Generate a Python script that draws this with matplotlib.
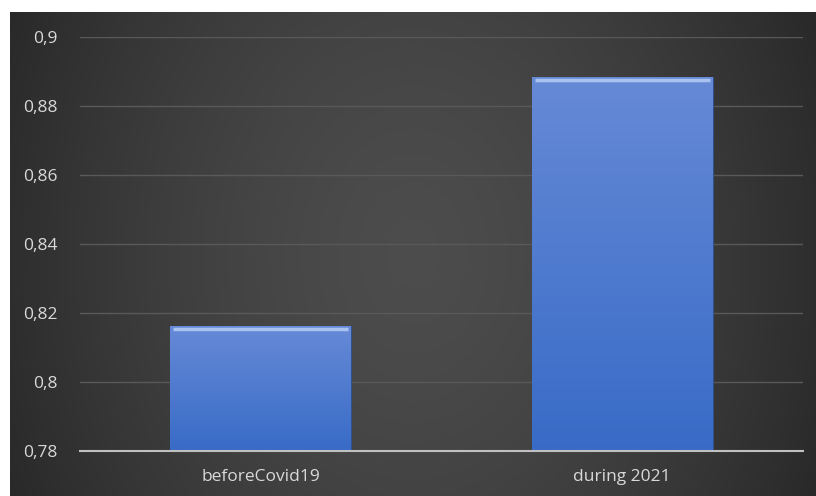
import numpy as np
import matplotlib.pyplot as plt
from matplotlib.ticker import FixedLocator

categories = ['beforeCovid19', 'during 2021']
values = [0.8162, 0.8884]
yticks = [0.78, 0.80, 0.82, 0.84, 0.86, 0.88, 0.90]
ytick_labels = ['0,78', '0,8', '0,82', '0,84', '0,86', '0,88', '0,9']

plt.rcParams['font.family'] = ['Open Sans', 'DejaVu Sans']

fig = plt.figure(figsize=(8.16, 4.96), dpi=100)
fig.patch.set_facecolor('white')

# dark background panel, lighter towards the middle
bg = fig.add_axes([10 / 816, 0, 806 / 816, 484 / 496])
xx, yy = np.meshgrid(np.linspace(-1, 1, 300), np.linspace(-1, 1, 200))
r = np.sqrt((xx / 1.0) ** 2 + (yy / 2.2) ** 2)
shade = 0.30 - 0.12 * np.clip(r, 0, 1.3) ** 1.5
bg.imshow(np.dstack([shade, shade, shade]), aspect='auto', extent=[0, 1, 0, 1])
bg.set_axis_off()

ax = fig.add_axes([80 / 816, (496 - 451) / 496, 723 / 816, (451 - 36.7) / 496])
ax.set_facecolor('none')

x = np.arange(len(categories))
bars = ax.bar(x, values, width=0.5, color='#4a78d0', zorder=3,
              edgecolor='#2c4f8f', linewidth=0.6)

# vertical gradient inside each bar
grad = np.linspace(0, 1, 256).reshape(-1, 1)
top = np.array([0.40, 0.54, 0.84])
bot = np.array([0.22, 0.42, 0.78])
img = top * (1 - grad[..., None]) + bot * grad[..., None]
img = img.reshape(256, 1, 3)
for b in bars:
    x0, w, h = b.get_x(), b.get_width(), b.get_height()
    im = ax.imshow(img, extent=[x0, x0 + w, 0.78, h], aspect='auto', zorder=3.5)
    im.set_clip_path(b)
    # bright bevel at top
    ax.plot([x0 + 0.008, x0 + w - 0.008], [h - 0.0008, h - 0.0008],
            color='#a9c2f0', lw=2.5, zorder=4, solid_capstyle='butt')
ax.set_xlim(-0.5, 1.5)
ax.set_ylim(0.78, 0.9)

ax.yaxis.set_major_locator(FixedLocator(yticks))
ax.set_yticklabels(ytick_labels)
ax.set_xticks(x)
ax.set_xticklabels(categories)
ax.grid(axis='y', color='#595959', lw=1, zorder=0)
for s in ['top', 'right', 'left']:
    ax.spines[s].set_visible(False)
ax.spines['bottom'].set_color('#c0c0c0')
ax.spines['bottom'].set_linewidth(1.5)
ax.spines['bottom'].set_zorder(5)
ax.tick_params(axis='both', length=0, colors='#d9d9d9', labelsize=12.5)
ax.tick_params(axis='y', pad=16)
ax.tick_params(axis='x', pad=13)

fig.savefig('out.png', dpi=100)
